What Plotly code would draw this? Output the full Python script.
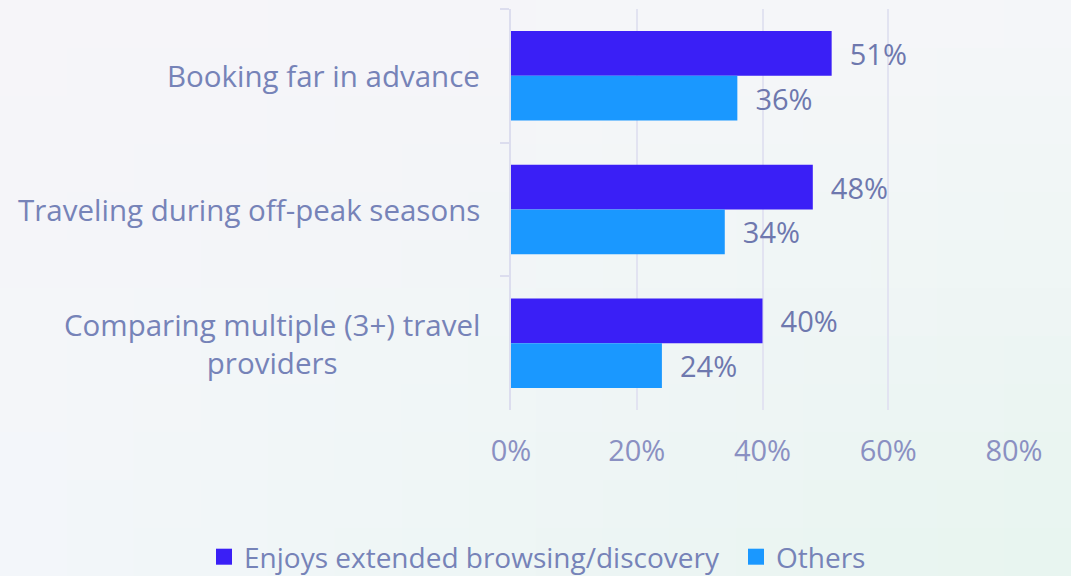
import plotly.graph_objects as go

categories = ["Booking far in advance", "Traveling during off-peak seasons", "Comparing multiple (3+) travel<br>providers"]
enjoys = [51, 48, 40]
others = [36, 34, 24]
series_names = ["Enjoys extended browsing/discovery", "Others"]
tick_vals = [0, 20, 40, 60, 80]
tick_text = ["0%", "20%", "40%", "60%", "80%"]

FONT = "Open Sans"
TXT = "#7683B8"
NB = "\u00a0"
COLORS = ["#3A1FF6", "#1A98FF"]

fig = go.Figure()
for name, vals, col in [(series_names[0], enjoys, COLORS[0]), (series_names[1], others, COLORS[1])]:
    fig.add_trace(go.Bar(y=categories, x=vals, orientation="h", name=name,
                         marker=dict(color=col, line=dict(width=0)),
                         text=[f"{v}%" for v in vals],
                         texttemplate=NB * 2 + "%{text}", textposition="outside",
                         textfont=dict(size=29, color="#6E78AE", family=FONT), cliponaxis=False,
                         showlegend=False))

# legend entries with larger square swatches
for name, col, lg in [(series_names[0], COLORS[0], "legend"), (series_names[1], COLORS[1], "legend2")]:
    fig.add_trace(go.Scatter(x=[None], y=[None], mode="markers", name=name,
                             marker=dict(symbol="square", size=18, color=col, line=dict(width=0)),
                             legend=lg, showlegend=True))

# category labels as centered annotations
for c in categories:
    fig.add_annotation(x=0, xref="paper", y=c, yref="y", text=c, showarrow=False,
                       xanchor="right", xshift=-29, align="center",
                       font=dict(size=29.5, color=TXT, family=FONT))

# soft diagonal background gradient
L, R, T, B = 511, 1014, 9, 410
W, H = 1071, 576
TL = (246, 245, 249)
TR = (245, 246, 249)
BL = (243, 246, 250)
BR = (231, 245, 239)
nx, ny = 16, 12
shapes = []
for i in range(nx):
    for j in range(ny):
        u = (i + 0.5) / nx
        v = (j + 0.5) / ny
        col = tuple(round(TL[k] * (1 - u) * (1 - v) + TR[k] * u * (1 - v) + BL[k] * (1 - u) * v + BR[k] * u * v) for k in range(3))
        px0, px1 = W * i / nx, W * (i + 1) / nx + 1
        py0, py1 = H * j / ny, H * (j + 1) / ny + 1
        shapes.append(dict(type="rect", xref="paper", yref="paper", layer="below",
                           x0=(px0 - L) / (R - L), x1=(px1 - L) / (R - L),
                           y0=(B - py1) / (B - T), y1=(B - py0) / (B - T),
                           fillcolor="rgb(%d,%d,%d)" % col, line=dict(width=0)))

leg_common = dict(orientation="h", xref="container", yref="container", xanchor="left", yanchor="middle",
                  font=dict(size=28, color=TXT, family=FONT), bgcolor="rgba(0,0,0,0)",
                  itemsizing="trace")

fig.update_layout(
    width=W, height=H,
    margin=dict(l=L, r=W - R, t=T, b=H - B, autoexpand=False),
    paper_bgcolor="rgb(243,245,247)", plot_bgcolor="rgba(0,0,0,0)",
    barmode="group", bargap=0.33, bargroupgap=0,
    font=dict(family=FONT, color=TXT),
    shapes=shapes,
    showlegend=True,
    legend=dict(x=204 / W, y=1 - 557 / H, **leg_common),
    legend2=dict(x=736 / W, y=1 - 557 / H, **leg_common),
    xaxis=dict(range=[0, 80], tickvals=tick_vals, ticktext=tick_text, showgrid=True,
               gridcolor="#E2E3F1", gridwidth=2, zeroline=False, showline=False,
               tickfont=dict(size=29, color="#8A90C2", family=FONT), ticks="",
               ticklabelstandoff=21),
    yaxis=dict(autorange="reversed", showticklabels=False, showline=True, linecolor="#DCDDEE",
               linewidth=2, ticks="outside", tickson="boundaries", ticklen=9,
               tickcolor="#DCDDEE", tickwidth=2, showgrid=False),
)

fig.write_html("out.html", config={"displayModeBar": False},
               post_script="document.body.style.margin='0';document.body.style.padding='0';")
